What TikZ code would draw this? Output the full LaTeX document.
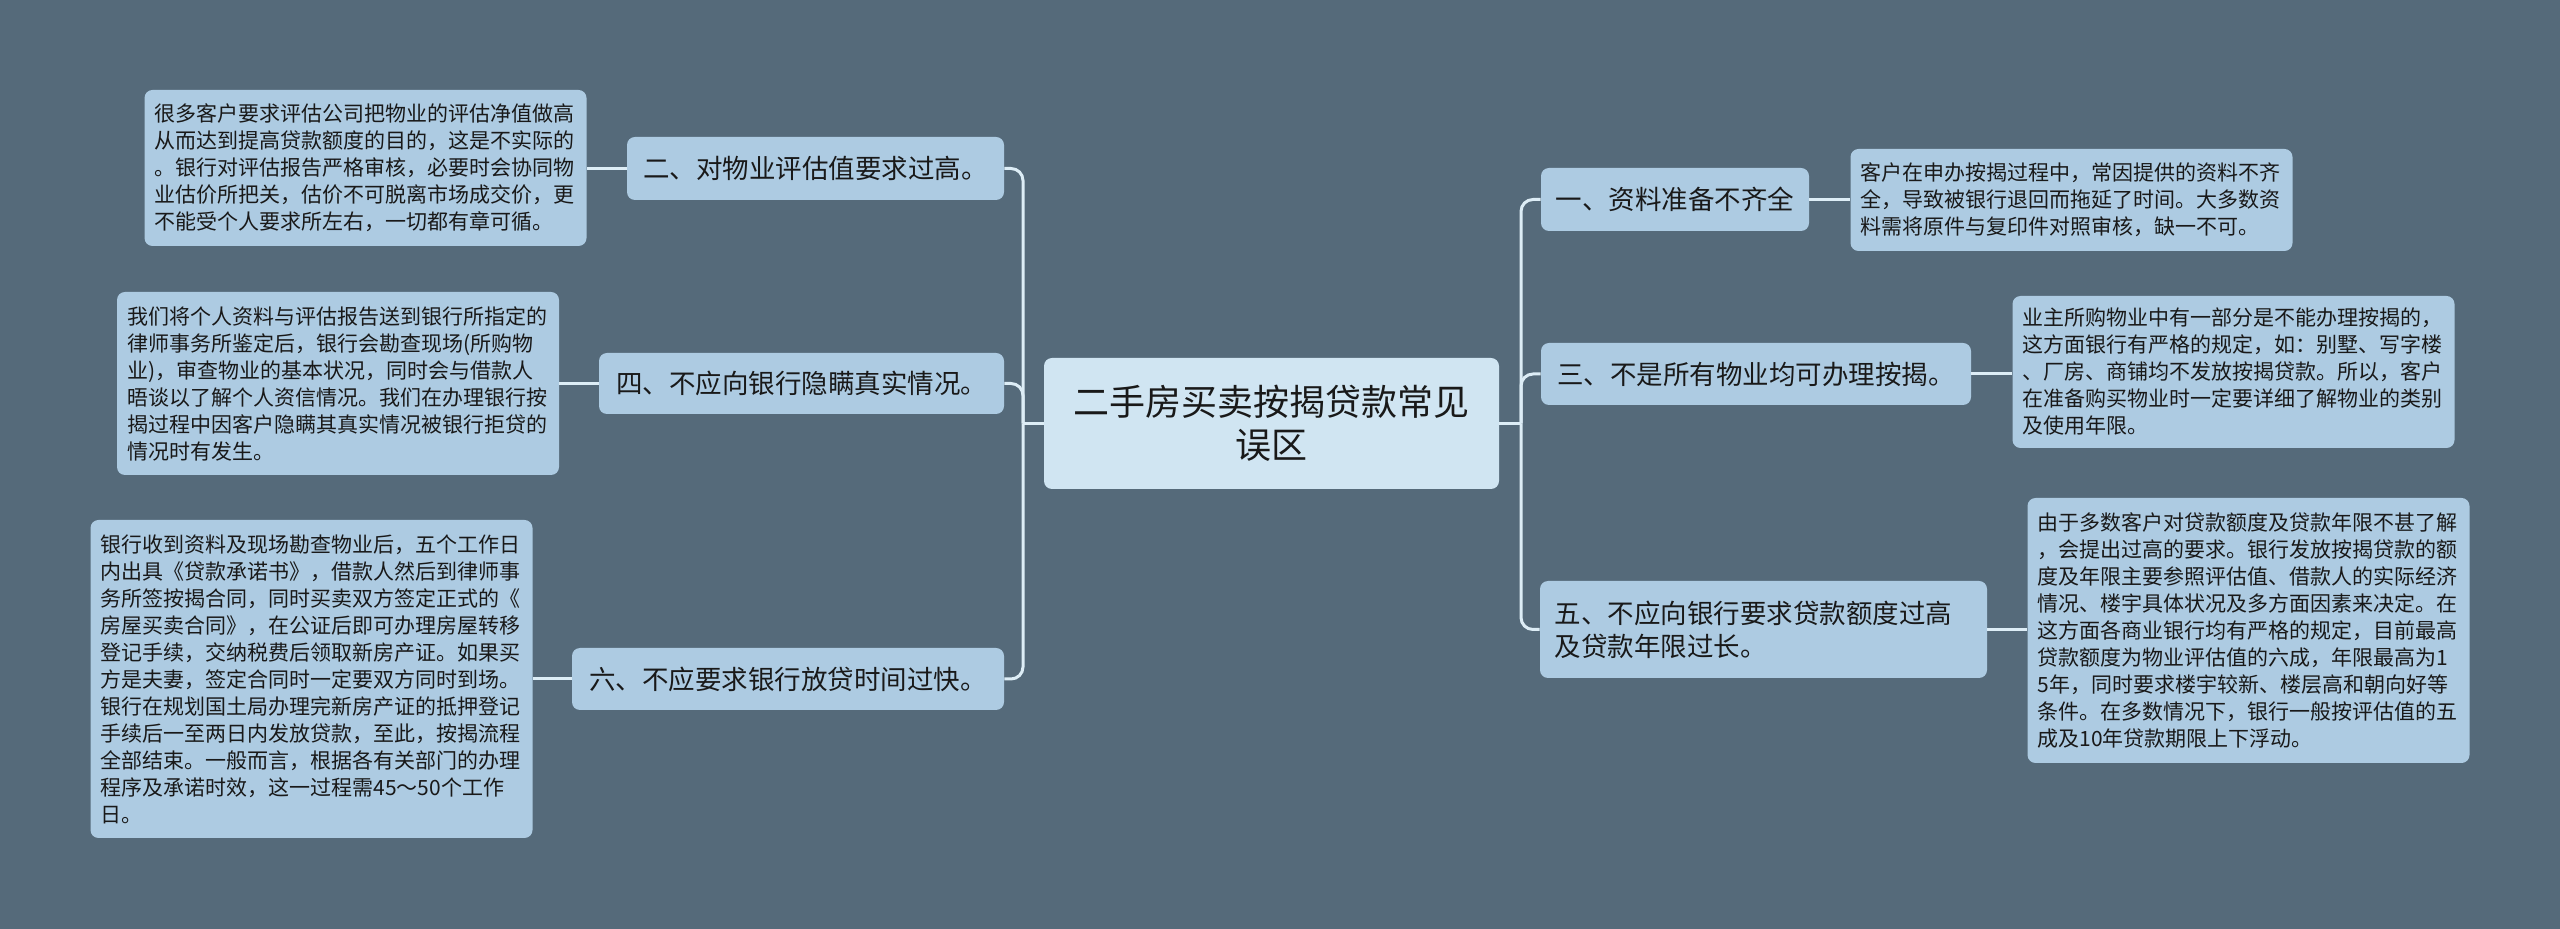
\documentclass[tikz,border=0pt]{standalone}
\usepackage{fontspec}
\setmainfont{Noto Sans CJK SC}
\definecolor{bgc}{RGB}{85,106,122}
\definecolor{boxc}{RGB}{173,203,226}
\definecolor{cenc}{RGB}{208,229,242}
\definecolor{linec}{RGB}{221,237,246}
\definecolor{txtc}{RGB}{25,25,25}
\tikzset{
  leaf/.style={fill=boxc, rounded corners=4pt, text=txtc, align=left, text width=211pt, inner xsep=5pt, inner ysep=4pt,
    font=\fontsize{10.5pt}{13.5pt}\selectfont},
  branch/.style={fill=boxc, rounded corners=4pt, text=txtc, align=left, inner sep=3pt,
    font=\fontsize{13.25pt}{16.5pt}\selectfont},
  central/.style={fill=cenc, rounded corners=4pt, text=txtc, align=center, inner sep=3pt,
    font=\fontsize{18pt}{21.5pt}\selectfont},
  conn/.style={draw=linec, line width=1.5pt},
  elbow/.style={conn, rounded corners=6pt}
}
\begin{document}
\begin{tikzpicture}[x=0.5pt,y=-0.5pt]
\fill[bgc] (0,0) rectangle (2560,929);
\useasboundingbox (0,0) rectangle (2560,929);

% central
\node[central, minimum width=227.5pt, minimum height=65.5pt] (C) at (1271.5,423.5) {二手房买卖按揭贷款常见\\误区};

% branches left
\node[branch, minimum width=188.5pt, minimum height=31.5pt] (L1) at (815.5,168.5) {二、对物业评估值要求过高。};
\node[branch, minimum width=202.5pt, minimum height=30.5pt] (L2) at (801.5,383.5) {四、不应向银行隐瞒真实情况。};
\node[branch, minimum width=216pt, minimum height=31pt] (L3) at (788,679) {六、不应要求银行放贷时间过快。};

% branches right
\node[branch, minimum width=134pt, minimum height=31.5pt] (R1) at (1675,199.5) {一、资料准备不齐全};
\node[branch, minimum width=215pt, minimum height=31pt] (R2) at (1756,374) {三、不是所有物业均可办理按揭。};
\node[branch, text width=209pt, inner xsep=7.25pt, minimum height=48.5pt] (R3) at (1763.5,629.5) {五、不应向银行要求贷款额度过高\\及贷款年限过长。};

% leaves left
\node[leaf, minimum height=78pt] (LL1) at (365.5,168) {很多客户要求评估公司把物业的评估净值做高\\从而达到提高贷款额度的目的，这是不实际的\\。银行对评估报告严格审核，必要时会协同物\\业估价所把关，估价不可脱离市场成交价，更\\不能受个人要求所左右，一切都有章可循。};
\node[leaf, minimum height=91.5pt] (LL2) at (338,383.5) {我们将个人资料与评估报告送到银行所指定的\\律师事务所鉴定后，银行会勘查现场(所购物\\业)，审查物业的基本状况，同时会与借款人\\晤谈以了解个人资信情况。我们在办理银行按\\揭过程中因客户隐瞒其真实情况被银行拒贷的\\情况时有发生。};
\node[leaf, minimum height=159pt] (LL3) at (311.5,679) {银行收到资料及现场勘查物业后，五个工作日\\内出具《贷款承诺书》，借款人然后到律师事\\务所签按揭合同，同时买卖双方签定正式的《\\房屋买卖合同》，在公证后即可办理房屋转移\\登记手续，交纳税费后领取新房产证。如果买\\方是夫妻，签定合同时一定要双方同时到场。\\银行在规划国土局办理完新房产证的抵押登记\\手续后一至两日内发放贷款，至此，按揭流程\\全部结束。一般而言，根据各有关部门的办理\\程序及承诺时效，这一过程需45～50个工作\\日。};

% leaves right
\node[leaf, minimum height=51pt] (RL1) at (2071.5,200) {客户在申办按揭过程中，常因提供的资料不齐\\全，导致被银行退回而拖延了时间。大多数资\\料需将原件与复印件对照审核，缺一不可。};
\node[leaf, minimum height=76pt] (RL2) at (2233.5,372) {业主所购物业中有一部分是不能办理按揭的，\\这方面银行有严格的规定，如：别墅、写字楼\\、厂房、商铺均不发放按揭贷款。所以，客户\\在准备购买物业时一定要详细了解物业的类别\\及使用年限。};
\node[leaf, minimum height=132.5pt] (RL3) at (2248.5,630.5) {由于多数客户对贷款额度及贷款年限不甚了解\\，会提出过高的要求。银行发放按揭贷款的额\\度及年限主要参照评估值、借款人的实际经济\\情况、楼宇具体状况及多方面因素来决定。在\\这方面各商业银行均有严格的规定，目前最高\\贷款额度为物业评估值的六成，年限最高为1\\5年，同时要求楼宇较新、楼层高和朝向好等\\条件。在多数情况下，银行一般按评估值的五\\成及10年贷款期限上下浮动。};

% trunks
\coordinate (lt) at (1023,423.5);
\coordinate (rt) at (1521,423.5);
\draw[conn] (C.west) -- (lt);
\draw[conn] (C.east) -- (rt);
\draw[elbow] (lt) |- (L1.east);
\draw[elbow] (lt) |- (L2.east);
\draw[elbow] (lt) |- (L3.east);
\draw[elbow] (rt) |- (R1.west);
\draw[elbow] (rt) |- (R2.west);
\draw[elbow] (rt) |- (R3.west);

% leaf connectors
\draw[conn] (L1.west) -- (L1.west -| LL1.east);
\draw[conn] (L2.west) -- (L2.west -| LL2.east);
\draw[conn] (L3.west) -- (L3.west -| LL3.east);
\draw[conn] (R1.east) -- (R1.east -| RL1.west);
\draw[conn] (R2.east) -- (R2.east -| RL2.west);
\draw[conn] (R3.east) -- (R3.east -| RL3.west);
\end{tikzpicture}
\end{document}
